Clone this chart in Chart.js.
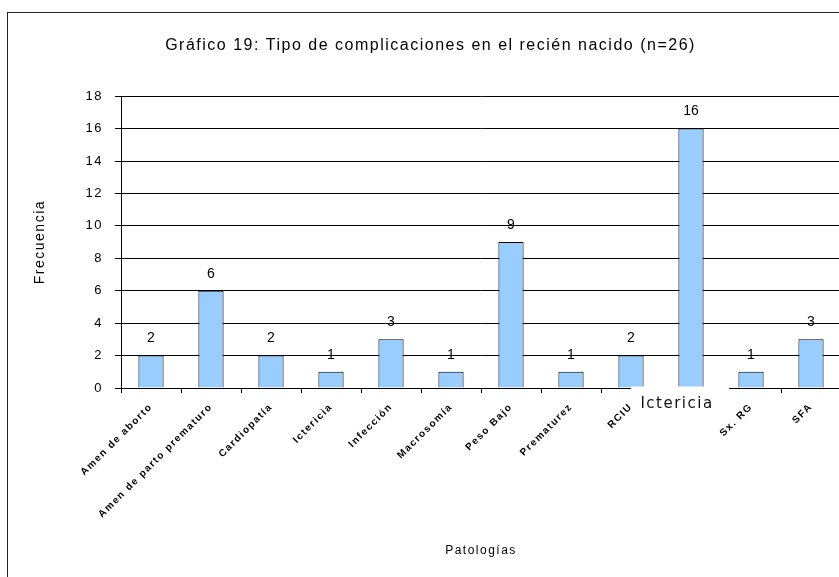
<!DOCTYPE html>
<html>
<head>
<meta charset="utf-8">
<script src="https://cdn.jsdelivr.net/npm/chart.js@4"></script>
<style>
  body { margin: 0; overflow: hidden; background: #fff; }
  #wrap { width: 860px; height: 577px; position: relative; }
</style>
</head>
<body>
<div id="wrap"><canvas id="myChart"></canvas></div>
<script>
// patologias del recien nacido
var categorias = ['Amen de aborto', 'Amen de parto prematuro', 'Cardiopatía', 'Ictericia',
    'Infección', 'Macrosomía', 'Peso Bajo', 'Prematurez', 'RCIU', 'Ictericia', 'Sx. RG', 'SFA'];
var frecuencias = [2, 6, 2, 1, 3, 1, 9, 1, 2, 16, 1, 3];
var ticksY = [0, 2, 4, 6, 8, 10, 12, 14, 16, 18];

// marco del grafico + texto un poco espaciado
var marco = {
    id: 'marco',
    beforeDraw(chart) {
        var c = chart.ctx;
        c.save();
        c.fillStyle = '#fff';
        c.fillRect(0, 0, chart.width, chart.height);
        c.strokeStyle = '#222';
        c.lineWidth = 1;
        c.strokeRect(7.5, 12.5, 1000, 800);
        c.restore();
        if ('letterSpacing' in c) c.letterSpacing = '1.5px';
    }
};

// numero encima de cada barra
var etiquetas = {
    id: 'etiquetas',
    afterDatasetsDraw(chart) {
        var c = chart.ctx;
        var meta = chart.getDatasetMeta(0);
        c.save();
        if ('letterSpacing' in c) c.letterSpacing = '0px';
        c.font = '14px "Liberation Sans", Arial, sans-serif';
        c.fillStyle = '#000';
        c.textAlign = 'center';
        c.textBaseline = 'middle';
        meta.data.forEach(function (bar, i) {
            c.fillText(String(frecuencias[i]), bar.x, bar.y - 17);
        });
        c.restore();
    }
};

// la etiqueta de ictericia va horizontal sobre un recuadro blanco
var ictericia = {
    id: 'ictericia',
    afterDraw(chart) {
        var c = chart.ctx;
        var x = chart.scales.x.getPixelForValue(9);
        var y = chart.chartArea.bottom;
        c.save();
        c.fillStyle = '#fff';
        c.fillRect(x - 60, y - 1.5, 98, 32);
        c.font = '15px "DejaVu Sans", sans-serif';
        if ('letterSpacing' in c) c.letterSpacing = '1.5px';
        c.fillStyle = '#111';
        c.textAlign = 'center';
        c.textBaseline = 'middle';
        c.fillText('Ictericia', x - 14, y + 16);
        c.restore();
    }
};

var ctx = document.getElementById('myChart').getContext('2d');

var myChart = new Chart(ctx, {
    type: 'bar',
    data: {
        labels: categorias,
        datasets: [{
            data: frecuencias,
            backgroundColor: '#99ccff',
            borderColor: '#000',
            borderWidth: 1,
            barPercentage: 0.42,
            categoryPercentage: 1
        }]
    },
    plugins: [marco, etiquetas, ictericia],
    options: {
        responsive: true,
        maintainAspectRatio: false,
        animation: false,
        layout: { padding: { top: 36, left: 20, right: 19, bottom: 16 } },
        plugins: {
            legend: { display: false },
            tooltip: { enabled: false },
            title: {
                display: true,
                text: 'Gráfico 19: Tipo de complicaciones en el recién nacido (n=26)',
                color: '#000',
                font: { family: '"Liberation Sans", Arial, sans-serif', size: 16, weight: 'normal' },
                padding: { top: 0, bottom: 41 }
            }
        },
        scales: {
            x: {
                afterFit: function (s) { s.height = 173; },
                grid: { drawOnChartArea: false, drawTicks: true, tickLength: 5, color: '#000' },
                border: { color: '#000', width: 1 },
                ticks: {
                    color: '#000',
                    minRotation: 45,
                    maxRotation: 45,
                    autoSkip: false,
                    padding: 8,
                    font: { family: '"Liberation Sans", Arial, sans-serif', size: 10, weight: 'bold' },
                    callback: function (v, i) { return i === 9 ? '' : categorias[i]; }
                },
                title: {
                    display: true,
                    text: 'Patologías',
                    color: '#000',
                    font: { family: '"Liberation Sans", Arial, sans-serif', size: 12 },
                    padding: { top: 0, bottom: 3 }
                }
            },
            y: {
                min: 0,
                max: 18,
                afterFit: function (s) { s.width = 101; },
                afterBuildTicks: function (s) { s.ticks = ticksY.map(function (v) { return { value: v }; }); },
                grid: { color: '#000', lineWidth: 1, tickLength: 6 },
                border: { color: '#000', width: 1 },
                ticks: {
                    color: '#000',
                    padding: 12,
                    font: { family: '"Liberation Sans", Arial, sans-serif', size: 13 }
                },
                title: {
                    display: true,
                    text: 'Frecuencia',
                    color: '#000',
                    font: { family: '"Liberation Sans", Arial, sans-serif', size: 14 },
                    padding: { top: 12, bottom: 0 }
                }
            }
        }
    }
});
</script>
</body>
</html>
